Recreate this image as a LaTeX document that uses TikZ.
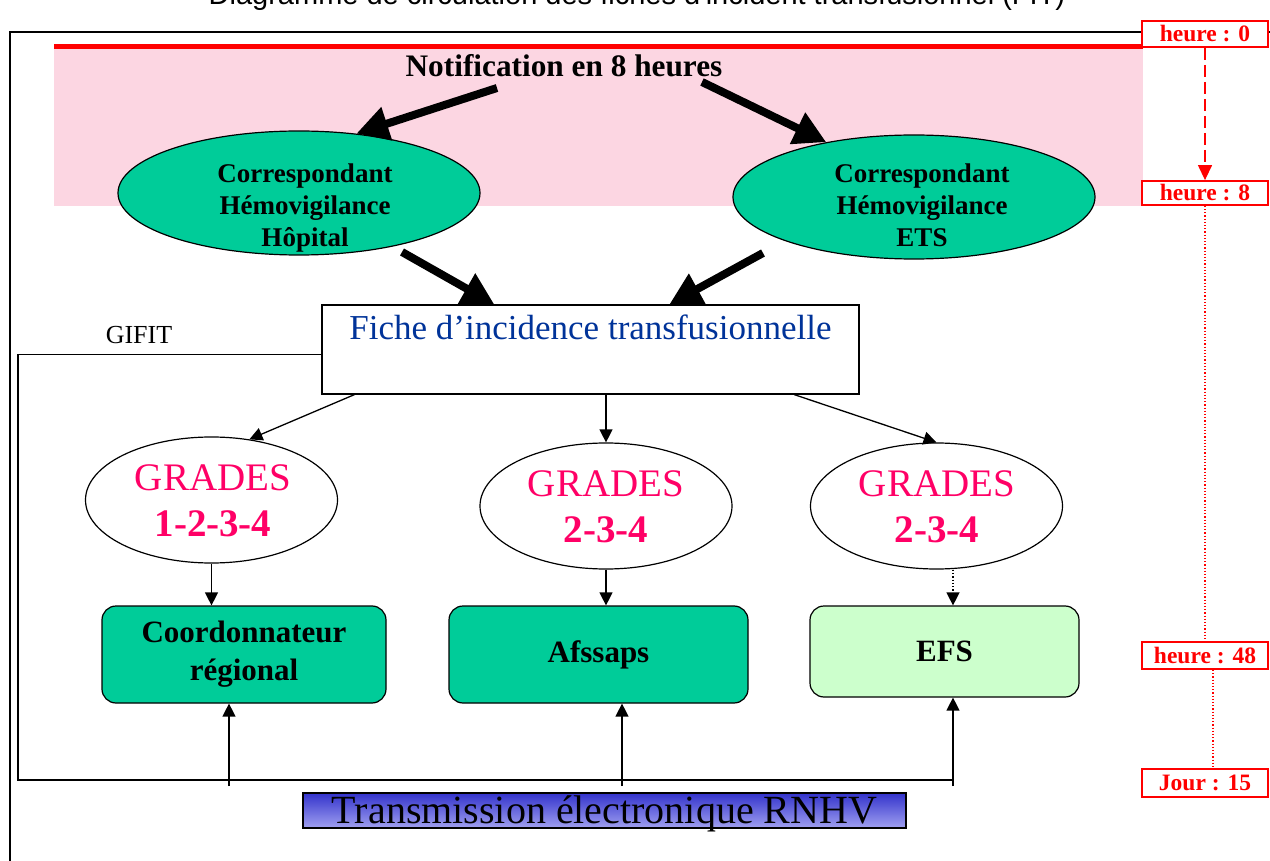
\documentclass[tikz,border=0pt]{standalone}
\usepackage{fontspec}
\setmainfont{Liberation Serif}
\newfontfamily\arialf{Liberation Sans}
\usetikzlibrary{arrows.meta,shapes.geometric,calc}
\definecolor{grn}{RGB}{0,204,153}
\definecolor{lgrn}{RGB}{204,255,204}
\definecolor{pinkband}{RGB}{252,214,226}
\definecolor{gradepink}{RGB}{255,0,102}
\definecolor{ficheblue}{RGB}{0,51,153}
\definecolor{bartop}{RGB}{51,51,204}
\definecolor{barbot}{RGB}{160,160,240}
\definecolor{tred}{RGB}{255,0,0}
\tikzset{
  bigarrow/.style={line width=8pt, -{Triangle[length=32pt,width=33pt]}},
  thinarrow/.style={line width=1.3pt, -{Triangle[length=13pt,width=13pt]}},
  thinline/.style={line width=1.3pt},
  corrEll/.style={ellipse, draw=black, line width=1.2pt, fill=grn, inner sep=0pt},
  gradeEll/.style={ellipse, draw=black, line width=1.2pt, fill=white, inner sep=0pt, minimum width=252pt, minimum height=126pt},
  corrText/.style={align=center, font=\bfseries\fontsize{27pt}{32pt}\selectfont, inner sep=0pt},
  gradeText/.style={align=center, text=gradepink, font=\fontsize{39pt}{46pt}\selectfont, inner sep=0pt},
  destBox/.style={rectangle, rounded corners=14pt, draw=black, line width=1.2pt, align=center, font=\bfseries\fontsize{31pt}{38pt}\selectfont, inner sep=0pt},
  timeBox/.style={rectangle, draw=tred, line width=1.8pt, fill=white, text=tred, font=\bfseries\fontsize{23.5pt}{26pt}\selectfont, minimum width=126pt, inner sep=0pt},
}
\begin{document}
\begin{tikzpicture}[x=1pt,y=-1pt]
\useasboundingbox (0,0) rectangle (1270,861);
% title (cut off at the top, as in the reference)
\node[anchor=base, font=\arialf\fontsize{29pt}{34pt}\selectfont, inner sep=0pt] (title) at (637,5) {Diagramme de circulation des fiches d'incident transfusionnel (FIT)};
% outer frame
\draw[line width=2.5pt] (10,900) -- (10,32) -- (1300,32);
% pink band and red line
\fill[pinkband] (54,47) rectangle (1143,206);
\draw[tred, line width=4.5pt] (54,46.5) -- (1143,46.5);

% notification
\node[anchor=base, font=\bfseries\fontsize{31.3pt}{35pt}\selectfont, inner sep=0pt] (notif) at (564,77) {Notification en 8 heures};

% correspondants
\node[corrEll, minimum width=362pt, minimum height=124pt] (cL) at (299,193) {};
\node[corrText] (cLt) at (305,208) {Correspondant\\Hémovigilance\\Hôpital};
\node[corrEll, minimum width=362pt, minimum height=124pt] (cR) at (914,197) {};
\node[corrText] (cRt) at (922,205) {Correspondant\\Hémovigilance\\ETS};

\coordinate (nL) at (497,88);
\coordinate (nR) at (702,82);
\draw[bigarrow] (nL) -- (cL.46);
\draw[bigarrow] (nR) -- (cR.148);

% fiche
\node[rectangle, draw=black, line width=1.3pt, fill=white, minimum width=537pt, inner xsep=0pt, inner ysep=0pt, text height=34pt, text depth=55pt, text=ficheblue, font=\fontsize{35pt}{40pt}\selectfont] (fiche) at (590.5,349.5) {Fiche d’incidence transfusionnelle};

\coordinate (sL) at (402,252);
\coordinate (sR) at (763,253);
\draw[bigarrow] (sL) -- ($(fiche.north west)+(173,0)$);
\draw[bigarrow] (sR) -- ($(fiche.north west)+(348,0)$);

% GIFIT loop
\node[anchor=base, font=\fontsize{26pt}{30pt}\selectfont, inner sep=0pt] (gifit) at (139,343) {GIFIT};
\coordinate (gifA) at ($(fiche.north west)+(0,50)$);
\coordinate (loopBL) at (18,780);
\coordinate (loopBR) at (953,780);
\draw[thinline] (gifA) -| (loopBL) -- (loopBR);

% grades ellipses
\node[gradeEll] (gL) at (211.5,500) {};
\node[gradeText] (gLt) at (213,501) {GRADES\\\textbf{1-2-3-4}};
\node[gradeEll] (gM) at (606,506) {};
\node[gradeText] (gMt) at (606,507) {GRADES\\\textbf{2-3-4}};
\node[gradeEll] (gR) at (936.5,506) {};
\node[gradeText] (gRt) at (937,507) {GRADES\\\textbf{2-3-4}};

\draw[thinarrow] ($(fiche.south west)+(33,0)$) -- (gL.58);
\draw[thinarrow] ($(fiche.south)+(15.5,0)$) -- (gM.north);
\draw[thinarrow] ($(fiche.south west)+(473,0)$) -- (gR.north);

% destination boxes
\node[destBox, fill=grn, minimum width=284pt, minimum height=97pt] (coord) at (244,654.5) {Coordonnateur\\régional};
\node[destBox, fill=grn, minimum width=299pt, minimum height=97pt] (afs) at (598.5,654.5) {Afssaps};
\node[destBox, fill=lgrn, minimum width=269pt, minimum height=91pt] (efs) at (944.5,651.5) {EFS};

\draw[thinarrow] (gL.south) -- (gL.south |- coord.north);
\draw[thinarrow] (gM.south) -- (gM.south |- afs.north);
\coordinate (gRb) at ($(gR.south)+(16.5,0)$);
\draw[thinarrow, dotted] (gRb) -- (gRb |- efs.north);

% upward arrows from the electronic transmission
\coordinate (u1) at (229,786);
\coordinate (u2) at (622,786);
\coordinate (u3) at (953,786);
\draw[thinarrow] (u1) -- (u1 |- coord.south);
\draw[thinarrow] (u2) -- (u2 |- afs.south);
\draw[thinarrow] (u3) -- (u3 |- efs.south);

% bottom bar
\node[rectangle, draw=black, line width=1.3pt, top color=bartop, bottom color=barbot, minimum width=603pt, inner xsep=0pt, inner ysep=4.5pt, text height=26pt, text depth=0pt, font=\fontsize{40pt}{44pt}\selectfont] (bar) at (604.5,810.5) {Transmission électronique RNHV};

% timeline
\node[timeBox, minimum height=26pt] (h0) at (1205,34) {heure : 0};
\node[timeBox, minimum height=24pt] (h8) at (1205,193) {heure : 8};
\node[timeBox, minimum height=27pt] (h48) at (1205,655.5) {heure : 48};
\node[timeBox, minimum height=28pt] (j15) at (1205,783) {Jour : 15};
\draw[tred, line width=1.3pt, dash pattern=on 12pt off 5pt, -{Triangle[length=15pt,width=14pt]}] (h0.south) -- (h8.north);
\draw[tred, line width=1.2pt, dotted] (h8.south) -- (h48.north);
\draw[tred, line width=1.2pt, dotted] ($(h48.south)+(8,0)$) -- ($(j15.north)+(8,0)$);
\end{tikzpicture}
\end{document}
